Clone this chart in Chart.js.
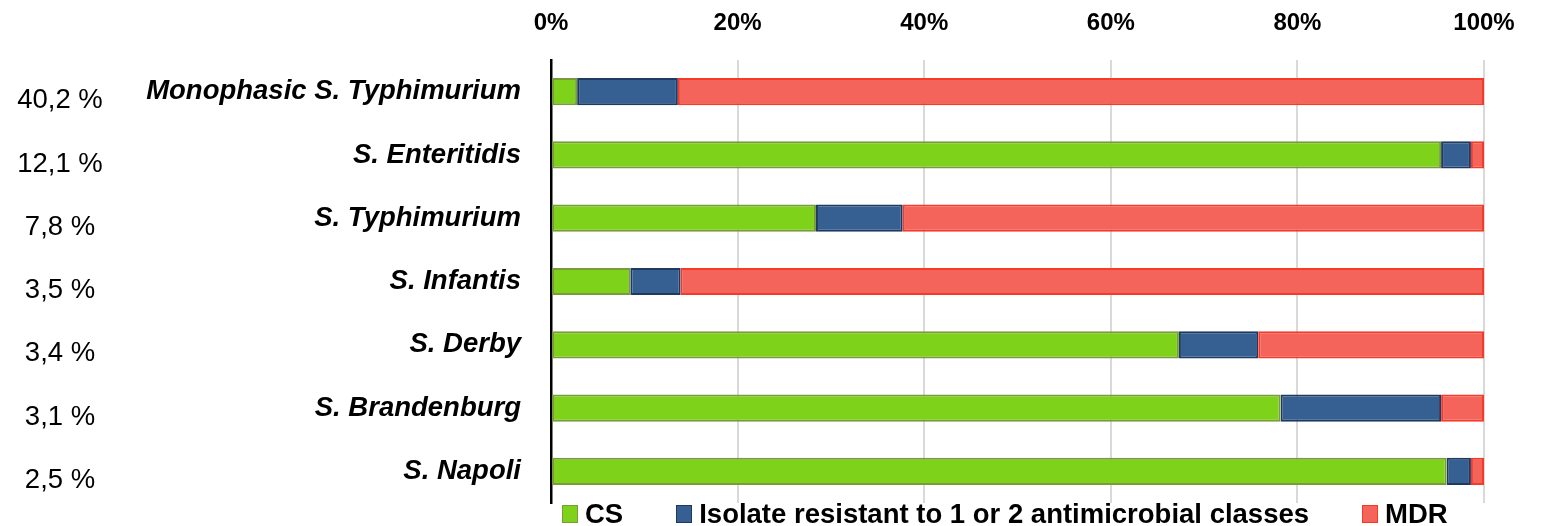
<!DOCTYPE html>
<html>
<head>
<meta charset="utf-8">
<script src="https://cdn.jsdelivr.net/npm/chart.js@4/dist/chart.umd.min.js"></script>
<style>
  html, body { margin: 0; padding: 0; background: #ffffff; }
  #wrap { position: relative; width: 1542px; height: 526px; overflow: hidden; }
  #chart { position: absolute; left: 0; top: 0; }
  #legend {
    position: absolute; left: 562px; top: 499px;
    display: flex; align-items: center;
    font-family: "Liberation Sans", Arial, sans-serif; font-weight: bold;
    font-size: 27.5px; color: #000; white-space: nowrap; line-height: 30px;
  }
  #legend .item { display: flex; align-items: center; margin-right: 53px; }
  #legend .box { width: 14px; height: 16px; margin-right: 7px; border: 1.5px solid; }
</style>
</head>
<body>
<div id="wrap">
  <canvas id="chart" width="1542" height="526"></canvas>
  <div id="legend"></div>
</div>
<script>
// Serovars and their share of all isolates
const categories = [
  "Monophasic S. Typhimurium",
  "S. Enteritidis",
  "S. Typhimurium",
  "S. Infantis",
  "S. Derby",
  "S. Brandenburg",
  "S. Napoli"
];
const shareLabels = ["40,2 %", "12,1 %", "7,8 %", "3,5 %", "3,4 %", "3,1 %", "2,5 %"];

// Resistance profile per serovar (% of isolates)
const csValues     = [2.8, 95.4, 28.4,  8.5, 67.3, 78.2, 96.0];
const resist12     = [10.8,  3.2,  9.3,  5.4,  8.5, 17.2,  2.6];
const mdrValues    = [86.4,  1.4, 62.3, 86.1, 24.2,  4.6,  1.4];

const seriesNames = ["CS", "Isolate resistant to 1 or 2 antimicrobial classes", "MDR"];
const xTicks = [0, 20, 40, 60, 80, 100];

const fills   = ["#7ED31A", "#366092", "#F5645A"];
const borders = ["#7A9A3C", "#1F3A60", "#F53A2A"];

// Share-of-isolates labels drawn at the far left of each row
const shareLabelPlugin = {
  id: "shareLabels",
  afterDraw(chart) {
    const ctx = chart.ctx;
    const y = chart.scales.y;
    ctx.save();
    ctx.font = "27.5px 'Liberation Sans', Arial, sans-serif";
    ctx.fillStyle = "#000";
    ctx.textAlign = "center";
    ctx.textBaseline = "middle";
    shareLabels.forEach((t, i) => {
      ctx.fillText(t, 60, y.getPixelForValue(i) + 9);
    });
    ctx.restore();
  }
};

const chart = new Chart(document.getElementById("chart"), {
  type: "bar",
  data: {
    labels: categories,
    datasets: [csValues, resist12, mdrValues].map((d, i) => ({
      label: seriesNames[i],
      data: d,
      backgroundColor: fills[i],
      borderColor: borders[i],
      borderWidth: 2,
      borderSkipped: false,
      categoryPercentage: 1,
      barPercentage: 0.43
    }))
  },
  options: {
    indexAxis: "y",
    responsive: false,
    maintainAspectRatio: false,
    animation: false,
    layout: { padding: { left: 0, right: 58, top: 0, bottom: 23 } },
    plugins: { legend: { display: false }, tooltip: { enabled: false } },
    scales: {
      x: {
        position: "top",
        stacked: true,
        min: 0, max: 100,
        afterBuildTicks(s) { s.ticks = xTicks.map(v => ({ value: v })); },
        afterFit(s) { s.height = 60; },
        grid: { color: "#D9D9D9", lineWidth: 2, drawTicks: false },
        border: { display: false },
        ticks: {
          padding: 22,
          color: "#000",
          font: { family: "'Liberation Sans', Arial, sans-serif", size: 24, weight: "bold" },
          callback: v => v + "%"
        }
      },
      y: {
        stacked: true,
        afterFit(s) { s.width = 551; s.paddingTop = 0; s.paddingBottom = 0; },
        grid: { display: false, drawTicks: false },
        border: { display: true, color: "#000", width: 2.5 },
        ticks: {
          padding: 30,
          color: "#000",
          font: { family: "'Liberation Sans', Arial, sans-serif", size: 27.5, weight: "bold", style: "italic" }
        }
      }
    }
  },
  plugins: [shareLabelPlugin]
});

// Legend built from the datasets
const legend = document.getElementById("legend");
chart.data.datasets.forEach(ds => {
  const item = document.createElement("div");
  item.className = "item";
  const box = document.createElement("span");
  box.className = "box";
  box.style.background = ds.backgroundColor;
  box.style.borderColor = ds.borderColor;
  const txt = document.createElement("span");
  txt.textContent = ds.label;
  item.appendChild(box);
  item.appendChild(txt);
  legend.appendChild(item);
});
</script>
</body>
</html>
